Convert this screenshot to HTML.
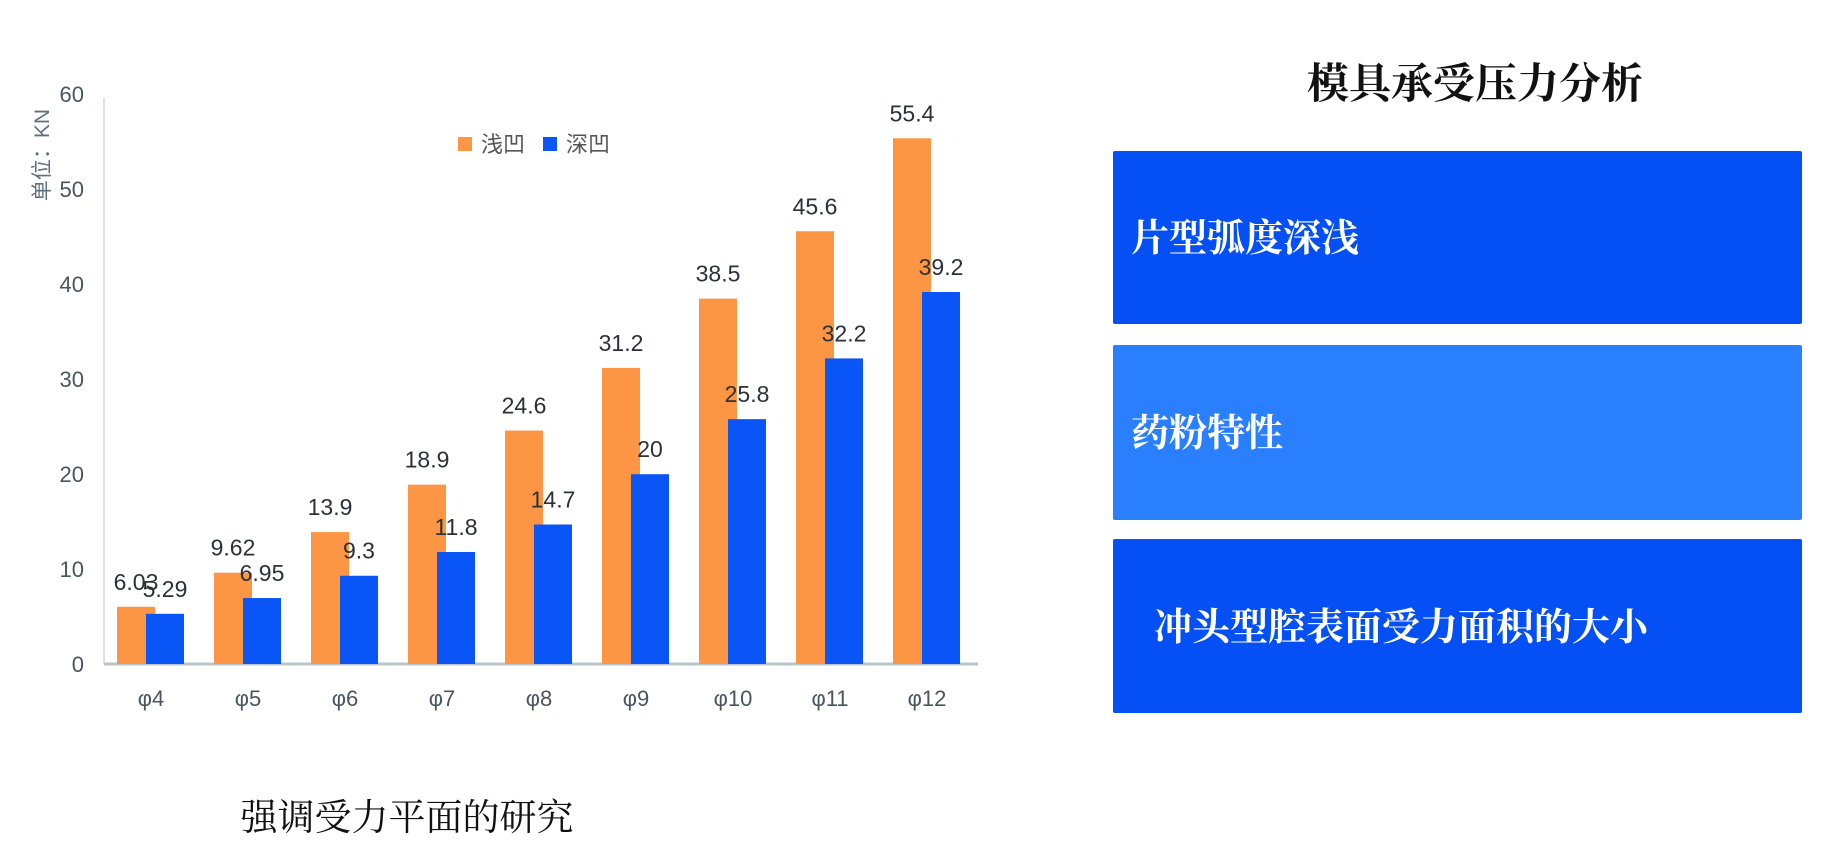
<!DOCTYPE html>
<html><head><meta charset="utf-8"><style>
body{margin:0;background:#fff;}
svg{display:block}
</style></head><body>
<svg width="1831" height="852" xmlns="http://www.w3.org/2000/svg">
<rect width="1831" height="852" fill="#fff"/>
<line x1="104" y1="98" x2="104" y2="664" stroke="#d9e2e8" stroke-width="2"/>
<line x1="104" y1="664" x2="978" y2="664" stroke="#b9c5c9" stroke-width="3"/>
<g font-family="Liberation Sans, sans-serif" font-size="22" fill="#4a5560" text-anchor="end">
<text x="84" y="672">0</text><text x="84" y="577">10</text><text x="84" y="482">20</text>
<text x="84" y="387">30</text><text x="84" y="292">40</text><text x="84" y="197">50</text><text x="84" y="102">60</text>
</g>
<text transform="translate(49,155) rotate(-90)" text-anchor="middle" font-family="Liberation Sans, Noto Sans CJK SC, sans-serif" font-size="21" fill="#607080">单位：KN</text>
<rect x="458" y="137" width="14" height="14" fill="#fc9644"/>
<text x="481" y="152" font-family="Liberation Sans, Noto Sans CJK SC, sans-serif" font-size="22" fill="#555">浅凹</text>
<rect x="543" y="137" width="14" height="14" fill="#0a55f5"/>
<text x="566" y="152" font-family="Liberation Sans, Noto Sans CJK SC, sans-serif" font-size="22" fill="#555">深凹</text>
<g id="bars" font-family="Liberation Sans, sans-serif" font-size="23" fill="#2a3138" text-anchor="middle"></g>
<text x="407" y="830" text-anchor="middle" font-family="Liberation Serif, Noto Serif CJK SC, serif" font-size="37" fill="#111">强调受力平面的研究</text>
<text x="1475" y="98" text-anchor="middle" font-family="Liberation Serif, Noto Serif CJK SC, serif" font-size="42" font-weight="bold" fill="#111">模具承受压力分析</text>
<rect x="1113" y="151" width="689" height="173" rx="2" fill="#0550f5"/>
<rect x="1113" y="345" width="689" height="175" rx="2" fill="#2a7fff"/>
<rect x="1113" y="539" width="689" height="174" rx="2" fill="#0550f5"/>
<g font-family="Liberation Serif, Noto Serif CJK SC, serif" font-size="38" font-weight="bold" fill="#fff">
<text x="1131" y="251">片型弧度深浅</text>
<text x="1131" y="446">药粉特性</text>
<text x="1154" y="640">冲头型腔表面受力面积的大小</text>
</g>
</svg>
<script>
var o=[6.03,9.62,13.9,18.9,24.6,31.2,38.5,45.6,55.4],b=[5.29,6.95,9.3,11.8,14.7,20,25.8,32.2,39.2];
var g=document.getElementById('bars'),s='';
for(var i=0;i<9;i++){var x=117+97*i,ho=o[i]*9.49,hb=b[i]*9.49;
s+='<rect x="'+x+'" y="'+(664-ho)+'" width="38" height="'+ho+'" fill="#fc9644"/>';
s+='<rect x="'+(x+29)+'" y="'+(664-hb)+'" width="38" height="'+hb+'" fill="#0a55f5"/>';
s+='<text x="'+(x+19)+'" y="'+(664-ho-17)+'">'+o[i]+'</text>';
s+='<text x="'+(x+48)+'" y="'+(664-hb-17)+'">'+b[i]+'</text>';
s+='<text x="'+(x+34)+'" y="706" fill="#4a5560" font-size="22">φ'+(i+4)+'</text>';}
g.innerHTML=s;
</script>
</body></html>
